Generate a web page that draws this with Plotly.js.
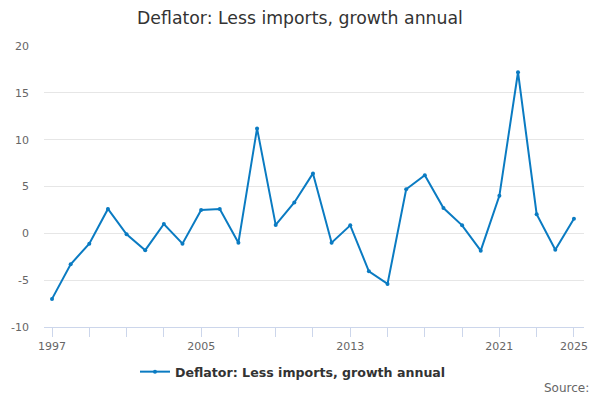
<!DOCTYPE html>
<html>
<head>
<meta charset="utf-8">
<script src="https://cdn.plot.ly/plotly-3.0.1.min.js"></script>
<style>
  html, body { margin: 0; padding: 0; background: #ffffff; }
  #plot { width: 600px; height: 400px; }
</style>
</head>
<body>
<div id="plot"></div>
<script>
const years = [
  1997, 1998, 1999, 2000, 2001, 2002, 2003, 2004, 2005, 2006,
  2007, 2008, 2009, 2010, 2011, 2012, 2013, 2014, 2015, 2016,
  2017, 2018, 2019, 2020, 2021, 2022, 2023, 2024, 2025,
];
const growth = [
  -7.0, -3.3, -1.1, 2.6, -0.1, -1.8, 1.0, -1.1, 2.5, 2.6,
  -1.0, 11.2, 0.9, 3.3, 6.4, -1.0, 0.85, -4.05, -5.4, 4.7,
  6.2, 2.7, 0.85, -1.85, 4.0, 17.2, 2.05, -1.75, 1.55,
];
const tickYears = [1997, 1999, 2001, 2003, 2005, 2007, 2009, 2011, 2013, 2015, 2017, 2019, 2021, 2023, 2025];
const labelledYears = [1997, 2005, 2013, 2021, 2025];
const yTicks = [-10, -5, 0, 5, 10, 15, 20];
const yTickLabels = ["-10", "-5", "0", "5", "10", "15", "20"];

const seriesName = "Deflator: Less imports, growth annual";
const lineColor = "#0a7bc2";
const font = "DejaVu Sans, sans-serif";

const traces = [
  {
    type: "scatter",
    mode: "lines+markers",
    x: years,
    y: growth,
    name: "<b>" + seriesName + "</b>",
    line: { color: lineColor, width: 2 },
    marker: { color: lineColor, size: 4 },
  },
];

const layout = {
  width: 600,
  height: 400,
  paper_bgcolor: "#ffffff",
  plot_bgcolor: "#ffffff",
  margin: { l: 44, r: 16, t: 46, b: 73 },
  font: { family: font, color: "#333333" },
  title: {
    text: seriesName,
    font: { family: font, size: 17.3, color: "#333333" },
    x: 0.5,
    xanchor: "center",
    y: 0.955,
    yanchor: "middle",
  },
  xaxis: {
    range: [1996.57, 2025.54],
    tickvals: tickYears,
    ticktext: tickYears.map((y) => (labelledYears.includes(y) ? String(y) : "")),
    ticks: "outside",
    ticklen: 9,
    tickcolor: "#ccd6eb",
    tickwidth: 1,
    showline: true,
    linecolor: "#ccd6eb",
    linewidth: 1,
    showgrid: false,
    zeroline: false,
    tickfont: { family: font, size: 11, color: "#666666" },
    fixedrange: true,
  },
  yaxis: {
    range: [-10, 20],
    tickvals: yTicks,
    ticktext: yTickLabels,
    showgrid: true,
    gridcolor: "#e6e6e6",
    zeroline: false,
    showline: false,
    ticklabelstandoff: 14,
    tickfont: { family: font, size: 11, color: "#666666" },
    fixedrange: true,
  },
  showlegend: true,
  legend: {
    orientation: "h",
    x: 0.1685,
    xanchor: "left",
    y: -0.16,
    yanchor: "middle",
    font: { family: font, size: 12.6, color: "#333333" },
  },
  annotations: [
    {
      text: "Source:",
      xref: "paper",
      yref: "paper",
      x: 1,
      xanchor: "right",
      xshift: 7,
      y: -0.217,
      yanchor: "middle",
      showarrow: false,
      font: { family: font, size: 12, color: "#666666" },
    },
  ],
};

Plotly.newPlot("plot", traces, layout, { displayModeBar: false, staticPlot: true });
</script>
</body>
</html>
